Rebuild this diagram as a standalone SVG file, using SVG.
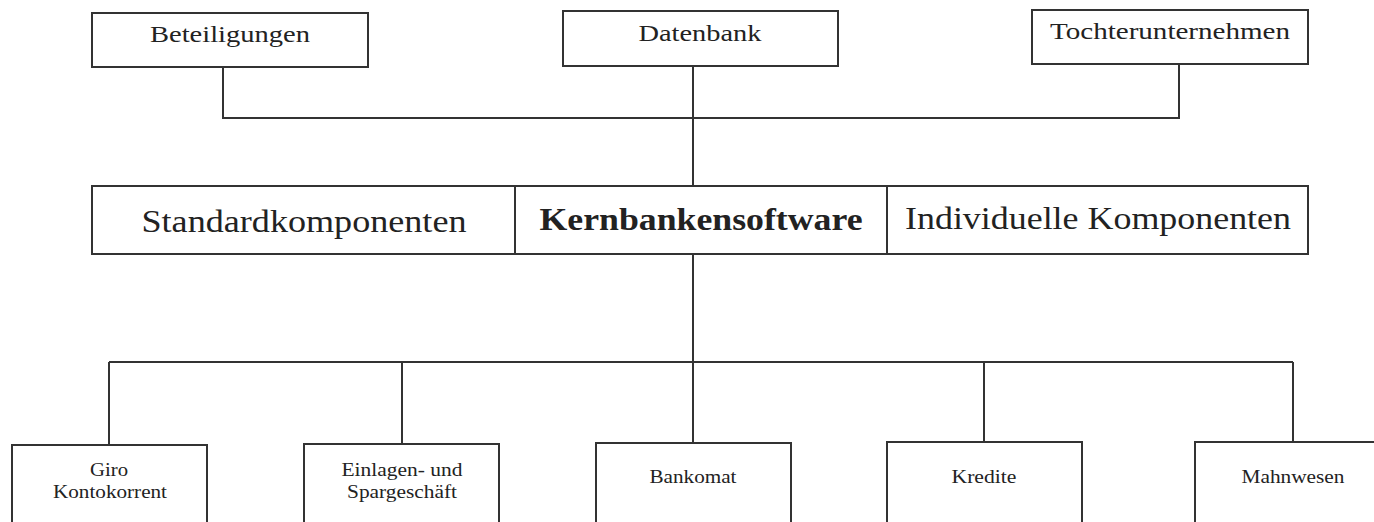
<svg xmlns="http://www.w3.org/2000/svg" width="1374" height="522" viewBox="0 0 1374 522">
<style>
.box{fill:#fff;stroke:#333;stroke-width:2}
.t{font-family:"Liberation Serif","Times New Roman",serif;fill:#222;text-anchor:middle}
.top{font-size:24px}
.mid{font-size:32px}
.bot{font-size:18px}
.b{font-weight:bold}
.c{fill:none;stroke:#333;stroke-width:2}
</style>
<rect width="1374" height="522" fill="#fff"/>
<g id="connectors">
<polyline class="c" points="223,67 223,118 1179,118 1179,64"/>
<line class="c" x1="693" y1="66" x2="693" y2="186"/>
<line class="c" x1="693" y1="254" x2="693" y2="443"/>
<line class="c" x1="109" y1="362" x2="1293" y2="362"/>
<line class="c" x1="109" y1="362" x2="109" y2="445"/>
<line class="c" x1="402" y1="362" x2="402" y2="444"/>
<line class="c" x1="984" y1="362" x2="984" y2="442"/>
<line class="c" x1="1293" y1="362" x2="1293" y2="442"/>
</g>
<g id="beteiligungen">
<rect class="box" x="92" y="13" width="276" height="54"/>
<text class="t top" x="230" y="42" textLength="160" lengthAdjust="spacingAndGlyphs">Beteiligungen</text>
</g>
<g id="datenbank">
<rect class="box" x="563" y="11" width="275" height="55"/>
<text class="t top" x="700" y="41" textLength="123" lengthAdjust="spacingAndGlyphs">Datenbank</text>
</g>
<g id="tochterunternehmen">
<rect class="box" x="1032" y="10" width="276" height="54"/>
<text class="t top" x="1170" y="39" textLength="240" lengthAdjust="spacingAndGlyphs">Tochterunternehmen</text>
</g>
<g id="standardkomponenten">
<rect class="box" x="92" y="186" width="423" height="68"/>
<text class="t mid" x="304" y="232" textLength="325" lengthAdjust="spacingAndGlyphs">Standardkomponenten</text>
</g>
<g id="kernbankensoftware">
<rect class="box" x="515" y="186" width="372" height="68"/>
<text class="t mid b" x="701" y="230" textLength="323" lengthAdjust="spacingAndGlyphs">Kernbankensoftware</text>
</g>
<g id="individuelle">
<rect class="box" x="887" y="186" width="421" height="68"/>
<text class="t mid" x="1098" y="229" textLength="386" lengthAdjust="spacingAndGlyphs">Individuelle Komponenten</text>
</g>
<g id="giro">
<rect class="box" x="12" y="445" width="195" height="100"/>
<text class="t bot" x="109" y="476" textLength="38" lengthAdjust="spacingAndGlyphs">Giro</text>
<text class="t bot" x="110" y="498" textLength="114" lengthAdjust="spacingAndGlyphs">Kontokorrent</text>
</g>
<g id="einlagen">
<rect class="box" x="304" y="444" width="195" height="100"/>
<text class="t bot" x="402" y="476" textLength="121" lengthAdjust="spacingAndGlyphs">Einlagen- und</text>
<text class="t bot" x="402" y="498" textLength="110" lengthAdjust="spacingAndGlyphs">Spargeschäft</text>
</g>
<g id="bankomat">
<rect class="box" x="596" y="443" width="195" height="100"/>
<text class="t bot" x="693" y="483" textLength="87" lengthAdjust="spacingAndGlyphs">Bankomat</text>
</g>
<g id="kredite">
<rect class="box" x="887" y="442" width="195" height="100"/>
<text class="t bot" x="984" y="483" textLength="65" lengthAdjust="spacingAndGlyphs">Kredite</text>
</g>
<g id="mahnwesen">
<rect class="box" x="1195" y="442" width="195" height="100"/>
<text class="t bot" x="1293" y="483" textLength="103" lengthAdjust="spacingAndGlyphs">Mahnwesen</text>
</g>
</svg>
